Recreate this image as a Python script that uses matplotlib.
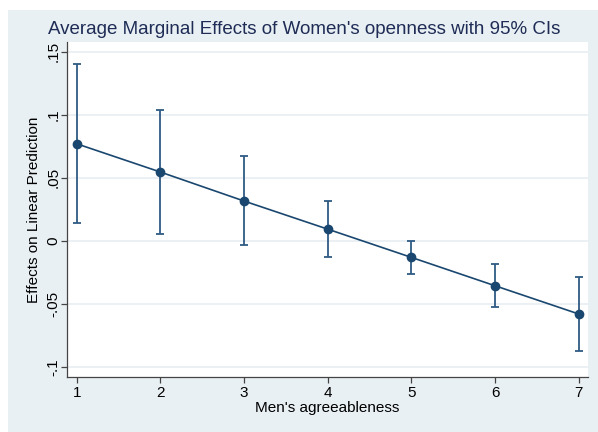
import matplotlib.pyplot as plt
from matplotlib.patches import Rectangle

# values
agree = [1, 2, 3, 4, 5, 6, 7]
effect = [0.0770, 0.0546, 0.0316, 0.0093, -0.0131, -0.0356, -0.0580]
ci_low = [0.0138, 0.0058, -0.0029, -0.0127, -0.0263, -0.0527, -0.0873]
ci_high = [0.1403, 0.1034, 0.0670, 0.0314, 0.0000, -0.0184, -0.0290]
yticks = [-0.1, -0.05, 0, 0.05, 0.1, 0.15]
ytick_labels = ['-.1', '-.05', '0', '.05', '.1', '.15']

plt.rcParams['font.family'] = ['Liberation Sans', 'DejaVu Sans']

W, H = 598, 432
fig = plt.figure(figsize=(W / 100, H / 100), dpi=100)
fig.patch.set_facecolor('white')
bg = '#e9f0f3'
fig.patches.append(Rectangle((8 / W, 0), 1 - 8 / W, 1 - 10 / H,
                             transform=fig.transFigure, facecolor=bg,
                             edgecolor='none', zorder=-5))

ax = fig.add_axes([66.7 / W, 1 - 376.7 / H, (588 - 66.7) / W, (376.7 - 42) / H])
ax.set_zorder(2)
ax.set_facecolor('white')

navy = '#1a476f'
err_lo = [e - l for e, l in zip(effect, ci_low)]
err_hi = [h - e for e, h in zip(effect, ci_high)]
ax.errorbar(agree, effect, yerr=[err_lo, err_hi], fmt='none',
            ecolor='#2f5a84', elinewidth=1.3, capsize=3.2, capthick=1.3, zorder=2)
ax.plot(agree, effect, color=navy, linewidth=1.2, marker='o',
        markersize=6, markerfacecolor=navy, markeredgecolor=navy, zorder=3)

ax.set_xlim(0.881, 7.11)
ax.set_ylim(-0.1077, 0.1577)
ax.set_xticks(agree)
ax.set_yticks(yticks)
ax.set_yticklabels(ytick_labels, rotation=90, va='center')
ax.grid(axis='y', color='#e6eef1', linewidth=1.2)
ax.set_axisbelow(True)

for s in ['top', 'right']:
    ax.spines[s].set_visible(False)
for s in ['left', 'bottom']:
    ax.spines[s].set_color('#444444')
    ax.spines[s].set_linewidth(0.9)
ax.tick_params(direction='out', length=4.3, width=0.9, color='#444444',
               labelsize=11, labelcolor='black')
ax.tick_params(axis='x', pad=2.5)
ax.tick_params(axis='y', pad=0.3)

ax.set_xlabel("Men's agreeableness", fontsize=11, labelpad=0.5)
ax.set_ylabel('Effects on Linear Prediction', fontsize=11, labelpad=3.5)
fig.text(304 / W, 1 - 30 / H,
         "Average Marginal Effects of Women's openness with 95% CIs",
         ha='center', va='center', fontsize=13.5, color='#1e2c56')

fig.savefig('out.png', dpi=100)
